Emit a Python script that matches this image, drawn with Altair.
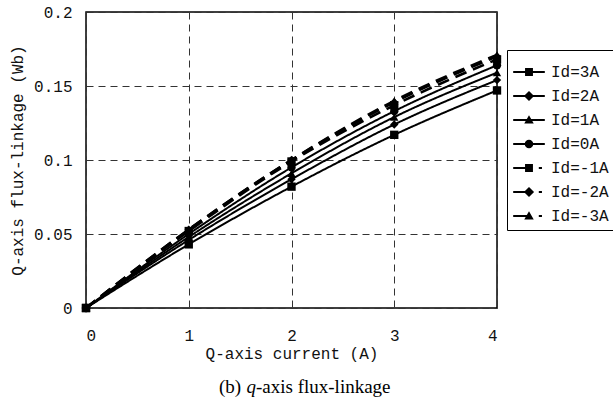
import altair as alt
import pandas as pd

x_vals = [0, 1, 2, 3, 4]
series = ["Id=3A", "Id=2A", "Id=1A", "Id=0A", "Id=-1A", "Id=-2A", "Id=-3A"]
values = {
    "Id=3A":  [0, 0.043, 0.082, 0.117, 0.147],
    "Id=2A":  [0, 0.046, 0.087, 0.124, 0.154],
    "Id=1A":  [0, 0.048, 0.091, 0.129, 0.159],
    "Id=0A":  [0, 0.050, 0.095, 0.133, 0.164],
    "Id=-1A": [0, 0.052, 0.099, 0.137, 0.168],
    "Id=-2A": [0, 0.053, 0.100, 0.139, 0.170],
    "Id=-3A": [0, 0.053, 0.100, 0.140, 0.171],
}
dashed = ["Id=-1A", "Id=-2A", "Id=-3A"]
shapes = ["square", "diamond", "triangle-up", "circle", "square", "diamond", "triangle-up"]

rows = []
for s in series:
    for xv, yv in zip(x_vals, values[s]):
        rows.append({"x": xv, "y": yv, "series": s, "dash": "d" if s in dashed else "s"})
df = pd.DataFrame(rows)

# legend symbols: line + marker paths
line_full = "M-1,-0.07H1V0.07H-1Z"
line_half = "M-1,-0.07H0V0.07H-1Z M0.62,-0.07H0.82V0.07H0.62Z"
m_sq = "M-0.25,-0.25H0.25V0.25H-0.25Z"
m_di = "M0,-0.32L0.32,0L0,0.32L-0.32,0Z"
m_tr = "M0,-0.3L0.3,0.22L-0.3,0.22Z"
m_ci = "M-0.27,0A0.27,0.27 0 1,1 0.27,0A0.27,0.27 0 1,1 -0.27,0Z"
markers = [m_sq, m_di, m_tr, m_ci, m_sq, m_di, m_tr]
paths = []
for s, m in zip(series, markers):
    paths.append((line_half if s in dashed else line_full) + " " + m)

mono = "Liberation Mono"
txt = "#111"

xenc = alt.X("x:Q", scale=alt.Scale(domain=[0, 4], nice=False),
             axis=alt.Axis(values=[0, 1, 2, 3, 4], format="d", title="Q-axis current (A)",
                           titlePadding=2))
yenc = alt.Y("y:Q", scale=alt.Scale(domain=[0, 0.2], nice=False),
             axis=alt.Axis(values=[0, 0.05, 0.1, 0.15, 0.2], title="Q-axis flux-linkage (Wb)",
                           labelExpr="datum.value == 0 ? '0' : format(datum.value, '~g')"))

base = alt.Chart(df)

lines = base.mark_line(interpolate="monotone", color="black").encode(
    x=xenc, y=yenc, detail="series:N",
    strokeDash=alt.StrokeDash("dash:N", scale=alt.Scale(domain=["s", "d"], range=[[1, 0], [12, 7]]), legend=None),
    strokeWidth=alt.StrokeWidth("dash:N", scale=alt.Scale(domain=["s", "d"], range=[2, 2.6]), legend=None),
)

points = base.mark_point(filled=True, color="black", opacity=1, size=70).encode(
    x="x:Q", y="y:Q",
    shape=alt.Shape("series:N", scale=alt.Scale(domain=series, range=shapes), legend=None),
)

legend_layer = base.mark_point(filled=True, color="black", opacity=0).encode(
    x="x:Q", y="y:Q",
    shape=alt.Shape("series:N", scale=alt.Scale(domain=series, range=paths),
                    legend=alt.Legend(title=None, symbolSize=1000, symbolOpacity=1,
                                      symbolFillColor="black", symbolStrokeWidth=0,
                                      labelFont=mono, labelFontSize=16, labelColor=txt,
                                      strokeColor="black", padding=6,
                                      rowPadding=0, labelOffset=6,
                                      orient="none", legendX=421, legendY=38)),
)

cap_y = 375
cap_fs = 19
cap1 = alt.Chart(pd.DataFrame({"t": ["(b)"]})).mark_text(
    font="Liberation Serif", fontSize=cap_fs, align="left", baseline="middle", color="black"
).encode(text="t:N", x=alt.value(133), y=alt.value(cap_y))
cap2 = alt.Chart(pd.DataFrame({"t": ["q"]})).mark_text(
    font="Liberation Serif", fontSize=cap_fs, fontStyle="italic", align="left", baseline="middle", color="black"
).encode(text="t:N", x=alt.value(160.5), y=alt.value(cap_y))
cap3 = alt.Chart(pd.DataFrame({"t": ["-axis flux-linkage"]})).mark_text(
    font="Liberation Serif", fontSize=cap_fs, align="left", baseline="middle", color="black"
).encode(text="t:N", x=alt.value(170), y=alt.value(cap_y))

chart = alt.layer(lines, points, legend_layer, cap1, cap2, cap3).resolve_scale(
    shape="independent"
).properties(
    width=411, height=296,
    padding={"left": 86, "top": 12, "right": 116, "bottom": 90},
    autosize=alt.AutoSizeParams(type="none"),
    background="white",
).configure_view(
    stroke="black", strokeWidth=1.5
).configure_axis(
    labelFont=mono, labelFontSize=16, labelColor=txt,
    titleFont=mono, titleFontSize=16, titleFontWeight="normal", titleColor=txt,
    grid=True, gridColor="#333", gridDash=[7, 5], gridWidth=1,
    ticks=False, domain=False,
).configure_axisX(labelPadding=19).configure_axisY(labelPadding=14, titlePadding=8)

chart.save("out.html", embed_options={"renderer": "svg", "actions": False})
